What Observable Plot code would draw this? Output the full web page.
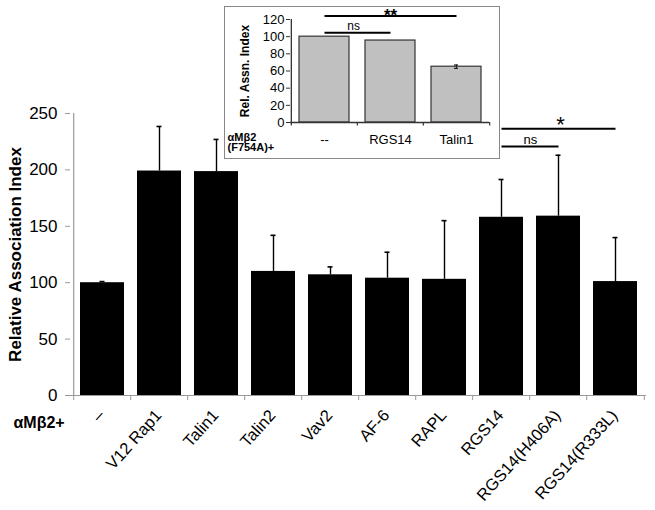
<!DOCTYPE html>
<html><head><meta charset="utf-8">
<script src="https://cdn.jsdelivr.net/npm/d3@7"></script>
<script src="https://cdn.jsdelivr.net/npm/@observablehq/plot@0.6"></script>
<style>
body{margin:0;background:#fff;font-family:"Liberation Sans",Arial,sans-serif;}
#wrap{position:relative;width:655px;height:510px;overflow:hidden;}
#inset{position:absolute;left:224px;top:6px;width:274px;height:151px;border:1px solid #888;background:#fff;}
svg{display:block;}
</style></head><body>
<div id="wrap"><div id="main"></div><div id="inset"></div></div>
<script>
// ---- main chart data ----
const categories = ["–", "V12 Rap1", "Talin1", "Talin2", "Vav2", "AF-6", "RAPL", "RGS14", "RGS14(H406A)", "RGS14(R333L)"];
const values = [100, 199, 198.5, 110, 107, 104, 103, 158, 159, 101];
const errors = [1, 39.5, 28.5, 32, 7, 23, 52, 33.5, 54, 39];
const yTicks = [0, 50, 100, 150, 200, 250];
const yLabel = "Relative Association Index";
const groupLabel = "αMβ2+";
const mainSig = [
  {from: "RGS14", to: "RGS14(R333L)", mid: "RGS14(H406A)", y: 236.4, label: "*"},
  {from: "RGS14", to: "RGS14(H406A)", mid: "RGS14", y: 220.7, label: "ns"}
];

// ---- inset data ----
const insetCategories = ["--", "RGS14", "Talin1"];
const insetValues = [100, 95.5, 65];
const insetErrors = [0, 0, 2];
const insetYTicks = [0, 20, 40, 60, 80, 100, 120];
const insetYLabel = "Rel. Assn. Index";
const insetGroupLabel = "αMβ2\n(F754A)+";
const insetSig = [
  {from: "--", to: "Talin1", mid: "RGS14", y: 124, label: "**"},
  {from: "--", to: "RGS14", mid: "--", y: 104.5, label: "ns"}
];

const FONT = "Liberation Sans, Arial, sans-serif";

// ---------- main ----------
const W = 655, H = 510, mL = 70, mR = 9, mT = 113, mB = 115;
const half = (W - mL - mR) / categories.length / 2;
const data = categories.map((c, i) => ({cat: c, value: values[i], err: errors[i]}));

const main = Plot.plot({
  width: W, height: H,
  marginLeft: mL, marginRight: mR, marginTop: mT, marginBottom: mB,
  style: {fontFamily: FONT, background: "white", color: "black"},
  x: {domain: categories, paddingInner: 0.236, paddingOuter: 0.118, label: null},
  y: {domain: [0, 250], label: null},
  marks: [
    Plot.barY(data, {x: "cat", y: "value", fill: "black"}),
    Plot.ruleX(data, {x: "cat", y1: "value", y2: d => d.value + d.err, stroke: "black", strokeWidth: 1.4}),
    Plot.tickY(data, {x: "cat", y: d => d.value + d.err, stroke: "black", strokeWidth: 1.6, insetLeft: 19.5, insetRight: 19.5}),
    Plot.ruleY([0], {stroke: "#999", strokeWidth: 1.2}),
    Plot.ruleX([categories[0]], {x: d => d, y1: 0, y2: 250, dx: -half, stroke: "#999", strokeWidth: 1.2}),
    Plot.ruleX(categories, {x: d => d, y1: 0, y2: -4.5, dx: -half, stroke: "#999"}),
    Plot.ruleX([categories[categories.length - 1]], {x: d => d, y1: 0, y2: -4.5, dx: half, stroke: "#999"}),
    Plot.axisY({ticks: yTicks, tickSize: 5, tickPadding: 8, stroke: "#999", fill: "black", fontSize: 17, label: null}),
    Plot.axisX({tickSize: 0, tickRotate: -48, tickPadding: 17, dx: -1, fontSize: 16.5, label: null, fill: "black"}),
    Plot.text([yLabel], {frameAnchor: "left", textAnchor: "middle", rotate: -90, dx: -55, fontSize: 17, fontWeight: "bold", fill: "black"}),
    Plot.text([groupLabel], {frameAnchor: "bottom-left", dx: -57, dy: 32, textAnchor: "start", fontSize: 16, fontWeight: "bold", fill: "black"}),
    Plot.link(mainSig, {x1: "from", x2: "to", y1: "y", y2: "y", stroke: "black", strokeWidth: 2}),
    Plot.text(mainSig.filter(d => d.label === "*"), {x: "mid", y: "y", text: "label", dx: 2, dy: -3.5, fontSize: 22, fill: "black"}),
    Plot.text(mainSig.filter(d => d.label === "ns"), {x: "mid", y: "y", text: "label", dx: half, dy: -2.5, lineAnchor: "bottom", fontSize: 13, fill: "black"})
  ]
});
document.getElementById("main").appendChild(main);

// ---------- inset ----------
const iW = 274, iH = 151, imL = 65, imR = 10, imT = 12, imB = 36;
const iHalf = (iW - imL - imR) / insetCategories.length / 2;
const idata = insetCategories.map((c, i) => ({cat: c, value: insetValues[i], err: insetErrors[i]}));
const ierr = idata.filter(d => d.err > 0);

const inset = Plot.plot({
  width: iW, height: iH,
  marginLeft: imL, marginRight: imR, marginTop: imT, marginBottom: imB,
  style: {fontFamily: FONT, background: "white", color: "black"},
  x: {domain: insetCategories, paddingInner: 0.245, paddingOuter: 0.1225, label: null},
  y: {domain: [0, 120], label: null},
  marks: [
    Plot.barY(idata, {x: "cat", y: "value", fill: "#c0c0c0", stroke: "#333", strokeWidth: 1.2}),
    Plot.ruleX(ierr, {x: "cat", y1: d => d.value - d.err, y2: d => d.value + d.err, stroke: "#222", strokeWidth: 1.2}),
    Plot.tickY(ierr, {x: "cat", y: d => d.value + d.err, stroke: "#222", strokeWidth: 1.2, insetLeft: 23, insetRight: 23}),
    Plot.tickY(ierr, {x: "cat", y: d => d.value - d.err, stroke: "#222", strokeWidth: 1.2, insetLeft: 23, insetRight: 23}),
    Plot.ruleY([0], {stroke: "#333", strokeWidth: 1.3}),
    Plot.ruleX([insetCategories[0]], {x: d => d, y1: 0, y2: 120, dx: -iHalf, stroke: "#333", strokeWidth: 1.3}),
    Plot.ruleX(insetCategories, {x: d => d, y1: 0, y2: -4, dx: -iHalf, stroke: "#333", strokeWidth: 1.2}),
    Plot.ruleX([insetCategories[insetCategories.length - 1]], {x: d => d, y1: 0, y2: -4, dx: iHalf, stroke: "#333", strokeWidth: 1.2}),
    Plot.axisY({ticks: insetYTicks, tickSize: 4, tickPadding: 2, stroke: "#333", fill: "black", fontSize: 13, label: null}),
    Plot.axisX({tickSize: 0, tickPadding: 12, fontSize: 13, label: null, fill: "black"}),
    Plot.text([insetYLabel], {frameAnchor: "left", textAnchor: "middle", rotate: -90, dx: -45, fontSize: 12, fontWeight: "bold", fill: "black"}),
    Plot.text([insetGroupLabel], {frameAnchor: "bottom-left", dx: -63, dy: 11, textAnchor: "start", lineAnchor: "top", lineHeight: 0.95, fontSize: 11, fontWeight: "bold", fill: "black"}),
    Plot.link(insetSig, {x1: "from", x2: "to", y1: "y", y2: "y", stroke: "black", strokeWidth: 2}),
    Plot.text(insetSig.filter(d => d.label === "**"), {x: "mid", y: "y", text: "label", lineAnchor: "bottom", dy: 4.5, fontSize: 17, fontWeight: "bold", fill: "black"}),
    Plot.text(insetSig.filter(d => d.label === "ns"), {x: "mid", y: "y", text: "label", dx: iHalf - 4, dy: -2.5, lineAnchor: "bottom", fontSize: 12, fill: "black"})
  ]
});
document.getElementById("inset").appendChild(inset);
</script>
</body></html>
